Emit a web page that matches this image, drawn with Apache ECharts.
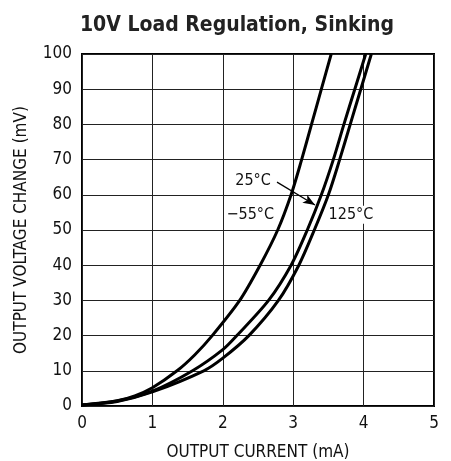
<!DOCTYPE html>
<html>
<head>
<meta charset="utf-8">
<script src="https://cdn.jsdelivr.net/npm/echarts@6/dist/echarts.min.js"></script>
<style>
  html, body { margin: 0; padding: 0; background: #fff; }
  #main { width: 451px; height: 461px; }
</style>
</head>
<body>
<div id="main"></div>
<script>
'use strict'

// output current (mA), output voltage change (mV)
const curveM55 = [[0, 0.3], [0.5, 1.5], [0.75, 2.9], [1, 5.2], [1.35, 10], [1.6, 14.5], [1.85, 20], [2.24, 30], [2.53, 40], [2.78, 50], [2.97, 60], [3.12, 70], [3.26, 80], [3.4, 90], [3.54, 100]]
const curve25 = [[0, 0.3], [0.5, 1.4], [1, 4.2], [1.57, 10], [2, 16], [2.2, 20], [2.65, 30], [2.97, 40], [3.2, 50], [3.4, 60], [3.57, 70], [3.72, 80], [3.875, 90], [4.03, 100]]
const curve125 = [[0, 0.3], [0.5, 1.3], [1, 4], [1.73, 10], [2, 13.6], [2.37, 20], [2.79, 30], [3.08, 40], [3.3, 50], [3.5, 60], [3.66, 70], [3.81, 80], [3.96, 90], [4.11, 100]]

const labels = [
    { text: '25°C', at: [2.43, 63.9] },
    { text: '\u221255°C', at: [2.39, 54.3] },
    { text: '125°C', at: [3.82, 54.3] }
]
const arrow = [[2.77, 63.6], [3.31, 57.1]]

const font = '"DejaVu Sans Condensed", "Roboto", sans-serif'

function curve(name, data) {
    return {
        name: name,
        type: 'line',
        data: data,
        smooth: 0.3,
        showSymbol: false,
        lineStyle: { color: '#000', width: 3 },
        z: 5
    }
}

const annot = {
    type: 'line',
    data: [],
    markPoint: {
        symbol: 'circle',
        symbolSize: 0,
        label: {
            show: true,
            position: 'inside',
            color: '#111',
            fontFamily: font,
            fontSize: 16,
            backgroundColor: '#fff',
            padding: [1, 1],
            formatter: p => p.name
        },
        data: labels.map(l => ({ name: l.text, coord: l.at }))
    },
    markLine: {
        silent: true,
        symbol: ['none', 'arrow'],
        symbolSize: [7, 12],
        label: { show: false },
        lineStyle: { color: '#000', width: 1.2, type: 'solid' },
        data: [[{ coord: arrow[0] }, { coord: arrow[1] }]]
    },
    z: 6
}

const myChart = echarts.init(document.getElementById('main'), null, { renderer: 'canvas' })
myChart.setOption({
    animation: false,
    backgroundColor: '#fff',
    title: {
        text: '10V Load Regulation, Sinking',
        left: 232,
        top: 10,
        textAlign: 'center',
        textStyle: { fontFamily: font, fontWeight: 'bold', fontSize: 21, color: '#222' }
    },
    grid: {
        left: 82, right: 17, top: 54, bottom: 55,
        containLabel: false,
        outerBoundsMode: 'none',
        show: true, borderColor: '#000', borderWidth: 2
    },
    xAxis: {
        type: 'value',
        min: 0, max: 5, interval: 1,
        name: 'OUTPUT CURRENT (mA)',
        nameLocation: 'middle',
        nameGap: 38,
        nameTextStyle: { fontFamily: font, fontSize: 17, color: '#111' },
        axisLine: { show: false },
        axisTick: { show: false },
        axisLabel: { fontFamily: font, fontSize: 17, color: '#111', margin: 9 },
        splitLine: { lineStyle: { color: '#222', width: 1 } }
    },
    yAxis: {
        type: 'value',
        min: 0, max: 100, interval: 10,
        name: 'OUTPUT VOLTAGE CHANGE (mV)',
        nameLocation: 'middle',
        nameGap: 52,
        nameTextStyle: { fontFamily: font, fontSize: 17, color: '#111' },
        axisLine: { show: false },
        axisTick: { show: false },
        axisLabel: { fontFamily: font, fontSize: 17, color: '#111', margin: 10 },
        splitLine: { lineStyle: { color: '#222', width: 1 } }
    },
    series: [
        curve('-55°C', curveM55),
        curve('25°C', curve25),
        curve('125°C', curve125),
        annot
    ]
})
</script>
</body>
</html>
